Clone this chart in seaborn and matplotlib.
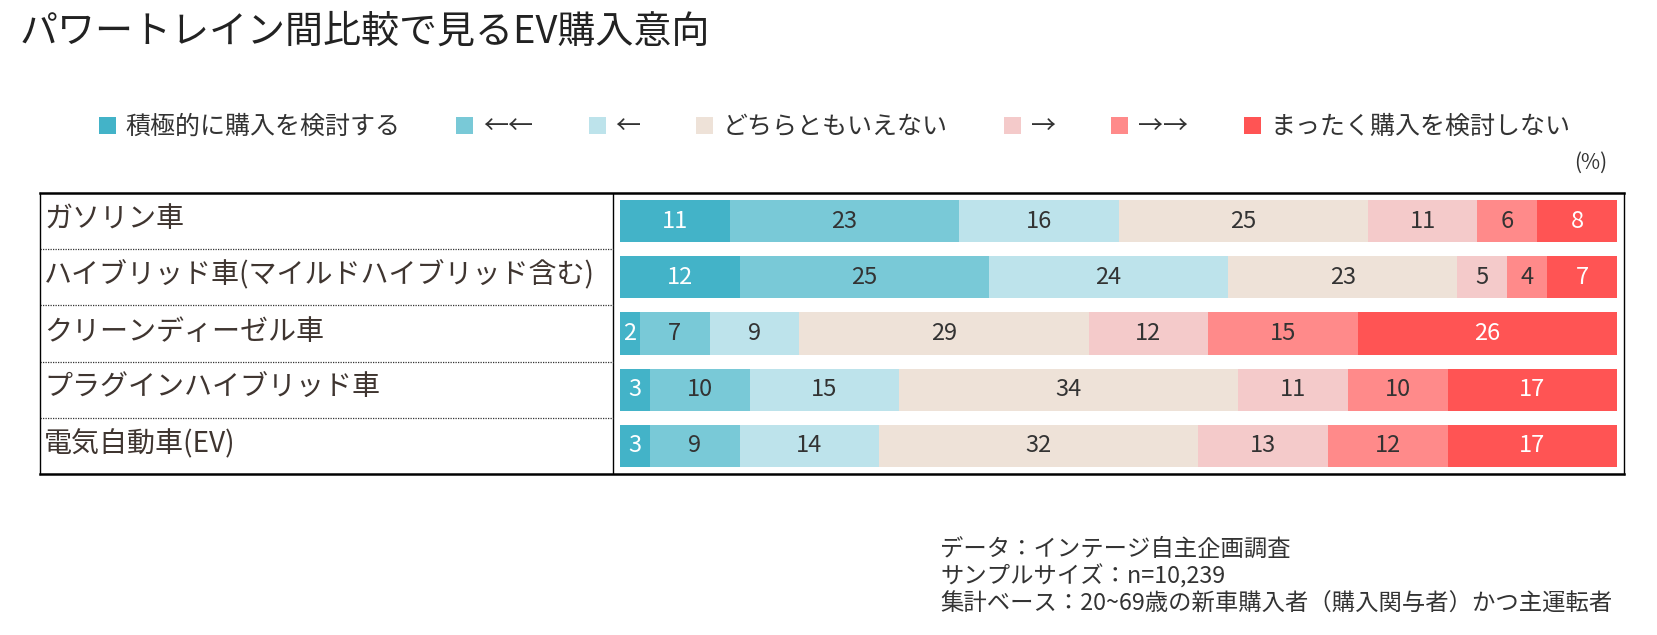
import numpy as np
import pandas as pd
import matplotlib
matplotlib.use('Agg')
import matplotlib.pyplot as plt
from matplotlib.patches import Patch
import seaborn as sns

sns.set_style('white')
plt.rcParams['font.family'] = ['Noto Sans CJK JP', 'DejaVu Sans']

# data
rows = ['ガソリン車', 'ハイブリッド車(マイルドハイブリッド含む)', 'クリーンディーゼル車',
        'プラグインハイブリッド車', '電気自動車(EV)']
levels = ['積極的に購入を検討する', '←←', '←', 'どちらともいえない', '→', '→→', 'まったく購入を検討しない']
v_pos2 = [11, 12, 2, 3, 3]
v_pos1 = [23, 25, 7, 10, 9]
v_pos0 = [16, 24, 9, 15, 14]
v_mid = [25, 23, 29, 34, 32]
v_neg0 = [11, 5, 12, 11, 13]
v_neg1 = [6, 4, 15, 10, 12]
v_neg2 = [8, 7, 26, 17, 17]
colors = ['#43B3C8', '#79C9D7', '#BDE3EB', '#EEE2D8', '#F4CACA', '#FF8A8A', '#FF5454']
txt_colors = ['white', '#333333', '#333333', '#333333', '#333333', '#333333', 'white']

vals = np.array([v_pos2, v_pos1, v_pos0, v_mid, v_neg0, v_neg1, v_neg2])
cum = vals.cumsum(axis=0)

W, H = 1657, 635
fig = plt.figure(figsize=(W / 100, H / 100), dpi=100)

# table frame (label column + bar column)
fx0, fx1, fy0, fy1 = 40, 1624, 193, 474
tab = fig.add_axes([fx0 / W, 1 - fy1 / H, (fx1 - fx0) / W, (fy1 - fy0) / H])
tab.set_xlim(fx0, fx1)
tab.set_ylim(len(rows) - 0.5, -0.5)
tab.set_xticks([]); tab.set_yticks([])
for s in ['top', 'bottom']:
    tab.spines[s].set_linewidth(1.8)
for s in ['left', 'right']:
    tab.spines[s].set_linewidth(1.0)
for s in tab.spines.values():
    s.set_color('black')
tab.axvline(613, color='black', lw=1.0)
for i in range(len(rows) - 1):
    tab.plot([fx0, 613], [i + 0.5, i + 0.5], color='#333333', lw=0.9, ls=(0, (1, 1)))
for i, r in enumerate(rows):
    tab.text(fx0 + 4, i - 0.03, r, ha='left', va='center', fontsize=20.2, color='#3F3530')

# bar area
bx0, bx1 = 620, 1617
ax = fig.add_axes([bx0 / W, 1 - fy1 / H, (bx1 - bx0) / W, (fy1 - fy0) / H])
ax.patch.set_alpha(0)
for k in range(len(levels) - 1, -1, -1):
    df = pd.DataFrame({'row': rows, 'cum': cum[k]})
    sns.barplot(data=df, x='cum', y='row', order=rows, color=colors[k], saturation=1,
                width=0.75, linewidth=0, errorbar=None, orient='h', ax=ax)
for k in range(len(levels)):
    for i in range(len(rows)):
        ax.text(cum[k, i] - vals[k, i] / 2, i, str(vals[k, i]), ha='center', va='center',
                fontsize=17, color=txt_colors[k])
ax.set_xlim(0, 100)
ax.set_ylim(len(rows) - 0.5, -0.5)
ax.set_xlabel(''); ax.set_ylabel('')
ax.set_xticks([]); ax.set_yticks([])
sns.despine(ax=ax, left=True, bottom=True)

# title
fig.text(20 / W, 1 - 32 / H, 'パワートレイン間比較で見るEV購入意向', fontsize=27.4,
         color='#222222', ha='left', va='center')

# legend
handles = [Patch(facecolor=c, edgecolor='none') for c in colors]
fig.legend(handles, levels, loc='center left', bbox_to_anchor=(86 / W, 1 - 127 / H),
           ncol=7, frameon=False, fontsize=18, handlelength=0.68, handleheight=0.68,
           handletextpad=0.4, columnspacing=2.22, borderpad=0, labelcolor='#333333')
fig.text(1607 / W, 1 - 163 / H, '(%)', fontsize=15, color='#333333', ha='right', va='center')

# footnote
notes = ['データ：インテージ自主企画調査', 'サンプルサイズ：n=10,239',
         '集計ベース：20~69歳の新車購入者（購入関与者）かつ主運転者']
for j, n in enumerate(notes):
    fig.text(940 / W, 1 - (549 + 27.5 * j) / H, n, fontsize=16.8, color='#333333',
             ha='left', va='center')

fig.savefig('out.png', dpi=100)
